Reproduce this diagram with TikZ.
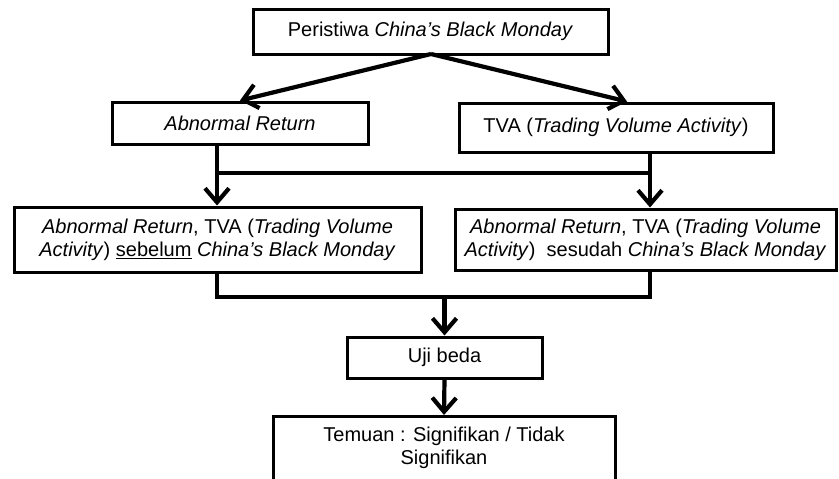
\documentclass[tikz,border=0pt]{standalone}
\usepackage{fontspec}
\setmainfont{Liberation Sans}
\usetikzlibrary{arrows.meta}
\begin{document}
\begin{tikzpicture}[x=1pt,y=-1pt,
  box/.style={draw, line width=3pt, rectangle, align=center, inner sep=0pt, font=\fontsize{20}{23}\selectfont},
  conn/.style={line width=4.2pt},
  arr/.style={conn, -{Straight Barb[length=14pt,width=24pt,line width=4.2pt]}}]
\useasboundingbox (0,0) rectangle (839,479);
\node[box, minimum width=355, minimum height=45] (top) at (430.5,31.5) {Peristiwa \textit{China’s Black Monday}};
\node[box, minimum width=256, minimum height=42] (ar) at (240,123) {\textit{Abnormal Return}};
\node[box, minimum width=314, minimum height=49] (tva) at (616,127.5) {TVA (\textit{Trading Volume Activity})};
\node[box, minimum width=407, minimum height=65] (bef) at (217.5,239.5) {\textit{Abnormal Return}, TVA (\textit{Trading Volume}\\\textit{Activity}) \underline{sebelum} \textit{China’s Black Monday}};
\node[box, minimum width=381, minimum height=61] (aft) at (645.5,239.5) {\textit{Abnormal Return}, TVA (\textit{Trading Volume}\\\textit{Activity})\ \ sesudah \textit{China’s Black Monday}};
\node[box, minimum width=195, minimum height=41] (uji) at (444.5,357.5) {Uji beda};
\node[box, minimum width=342, minimum height=80, anchor=north] (tem) at (444,415) {};
\node[align=center, font=\fontsize{20}{23}\selectfont, anchor=north, inner sep=0pt] (temt) at (444,427) {Temuan : Signifikan / Tidak\\Signifikan};
% connectors
\coordinate (tb) at (431,54);
\draw[arr] (tb) -- (ar.north);
\draw[arr] (tb) -- (tva.north -| 627,0);
\coordinate (l1) at (217,144);
\coordinate (r1) at (650,152);
\coordinate (jl) at (217,173);
\coordinate (jr) at (650,173);
\draw[conn] (jl) -- (jr);
\draw[arr] (l1) -- (bef.north -| l1);
\draw[arr] (r1) -- (aft.north -| r1);
\coordinate (l2) at (217,272);
\coordinate (r2) at (650,270);
\coordinate (jb) at (444.5,297);
\draw[conn] (l2) |- (jb) -| (r2);
\draw[arr] (jb) -- (uji.north);
\draw[arr] (uji.south) -- (tem.north);
\end{tikzpicture}
\end{document}
